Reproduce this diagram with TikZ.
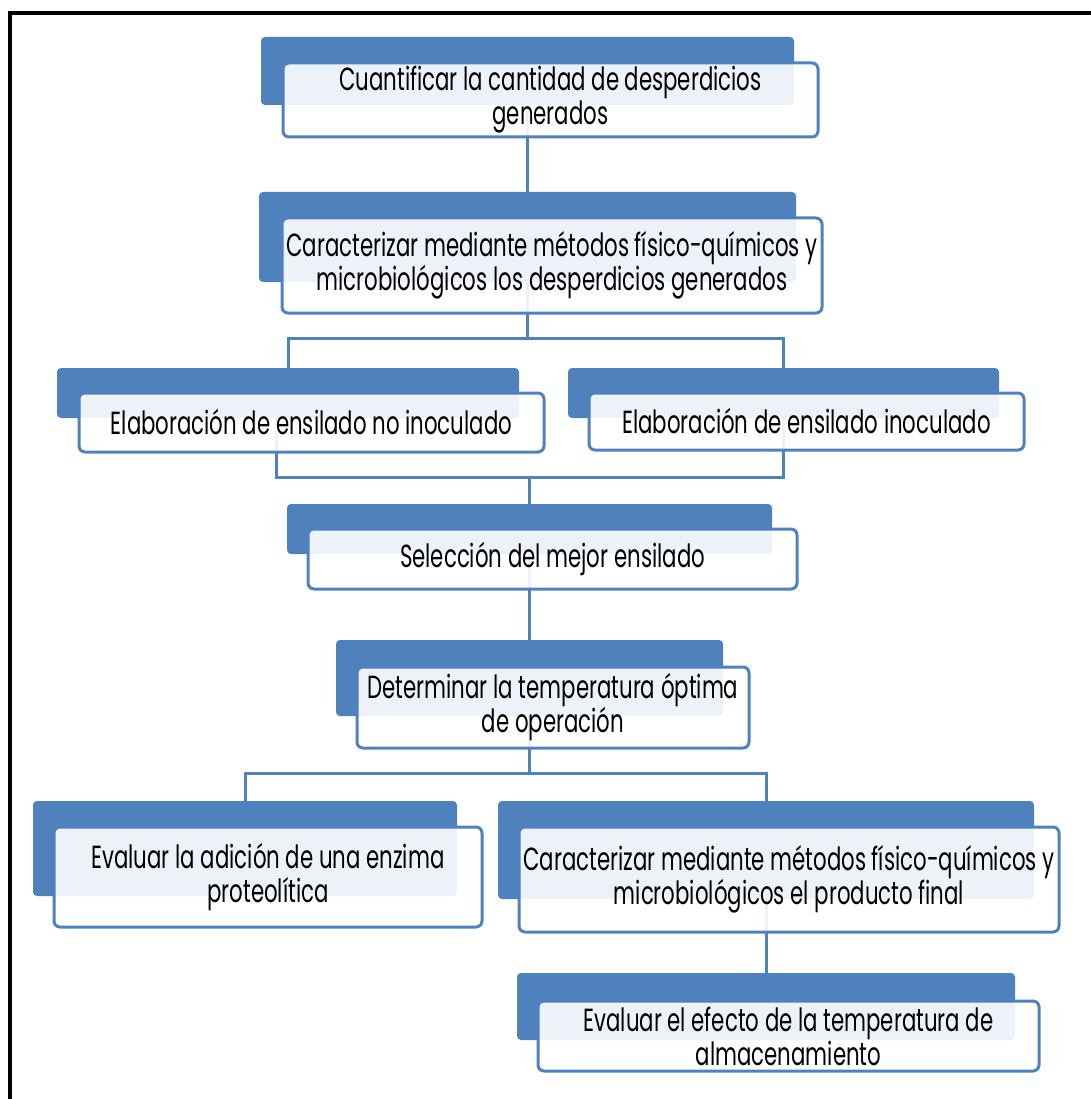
\documentclass[tikz,border=0pt]{standalone}
\usepackage{fontspec}
\setmainfont{Poppins}[FakeStretch=0.665]
\pgfdeclarelayer{bg}
\pgfsetlayers{bg,main}
\definecolor{sablue}{RGB}{79,129,189}
\tikzset{
  tabbox/.style={fill=sablue, draw=none, rounded corners=4pt, inner sep=0pt, outer sep=0pt},
  frontbox/.style={draw=sablue, line width=3pt, fill=white, fill opacity=0.9, text opacity=1,
    rounded corners=6pt, inner sep=0pt, outer sep=0pt, align=center,
    font=\fontsize{32}{34}\selectfont},
  conn/.style={draw=sablue, line width=3pt},
  frame/.style={draw=black, line width=4pt}
}
\begin{document}
\begin{tikzpicture}[x=1pt,y=-1pt]
\useasboundingbox (0,0) rectangle (1090,1099);
\draw[frame] (10,1120) -- (10,13) -- (1110,13);
% box 1
\node[tabbox, minimum width=533, minimum height=68] (t1) at (527.5,71) {};
\node[frontbox, minimum width=535, minimum height=74] (f1) at (550.5,100) {Cuantificar la cantidad de desperdicios\\generados};
% box 2
\node[tabbox, minimum width=537, minimum height=90] (t2) at (527.5,237) {};
\node[frontbox, minimum width=540, minimum height=95] (f2) at (552,265.5) {Caracterizar mediante métodos físico-químicos y\\microbiológicos los desperdicios generados};
% box L
\node[tabbox, minimum width=462, minimum height=50] (tL) at (288,393) {};
\node[frontbox, minimum width=465, minimum height=59] (fL) at (311.5,422.5) {Elaboración de ensilado no inoculado};
% box R
\node[tabbox, minimum width=431, minimum height=50] (tR) at (783.5,393) {};
\node[frontbox, minimum width=435, minimum height=57] (fR) at (806.5,421.5) {Elaboración de ensilado inoculado};
% box 5
\node[tabbox, minimum width=485, minimum height=50] (t5) at (529.5,529) {};
\node[frontbox, minimum width=489, minimum height=60] (f5) at (552.5,559) {Selección del mejor ensilado};
% box 6
\node[tabbox, minimum width=387, minimum height=76] (t6) at (529.5,678) {};
\node[frontbox, minimum width=392, minimum height=81] (f6) at (553,707.5) {Determinar la temperatura óptima\\de operación};
% box 7
\node[tabbox, minimum width=424, minimum height=95] (t7) at (245,848.5) {};
\node[frontbox, minimum width=428, minimum height=100] (f7) at (268,877) {Evaluar la adición de una enzima\\proteolítica};
% box 8
\node[tabbox, minimum width=536, minimum height=98] (t8) at (766,850) {};
\node[frontbox, minimum width=540, minimum height=105] (f8) at (789,879.5) {Caracterizar mediante métodos físico-químicos y\\microbiológicos el producto final};
% box 9
\node[tabbox, minimum width=498, minimum height=67] (t9) at (766,1006.5) {};
\node[frontbox, minimum width=501, minimum height=70] (f9) at (788.5,1036) {Evaluar el efecto de la temperatura de\\almacenamiento};
% connectors
\coordinate (b2) at (527.5,338);
\coordinate (m5) at (529.5,477);
\coordinate (b6) at (529.5,773);
\begin{pgfonlayer}{bg}
\draw[conn] (t1.center) -- (t2.north);
\draw[conn] (t2.center) -- (b2);
\draw[conn] (b2) -| (tL.north);
\draw[conn] (b2) -| (tR.north);
\draw[conn] ([xshift=-12pt]tL.center) |- (m5);
\draw[conn] (tR.center) |- (m5);
\draw[conn] (m5) -- (t5.north);
\draw[conn] (t5.center) -- (t6.north);
\draw[conn] (t6.center) -- (b6);
\draw[conn] (b6) -| (t7.north);
\draw[conn] (b6) -| (t8.north);
\draw[conn] (t8.center) -- (t9.north);
\end{pgfonlayer}
\end{tikzpicture}
\end{document}
